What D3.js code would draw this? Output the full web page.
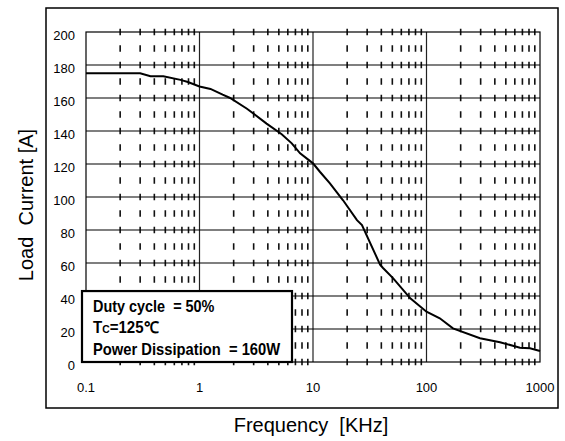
<!DOCTYPE html>
<html>
<head>
<meta charset="utf-8">
<script src="https://cdn.jsdelivr.net/npm/d3@7"></script>
<style>
  body { margin: 0; background: #fff; }
  text { font-family: "Liberation Sans", Arial, sans-serif; }
</style>
</head>
<body>
<div id="chart"></div>
<script>
// curve: frequency in kHz, load current in A
var freq    = [0.1, 0.3, 0.37, 0.48, 0.68, 0.79, 1.0, 1.25, 1.6, 1.86, 2.62, 3.9, 5.3, 6.5, 7.7, 10, 11.5, 14.1, 18.4, 24.4, 27, 39, 41.4, 50.9, 72, 100, 131, 171, 296, 444, 666, 816, 1000];
var current = [175, 175, 173.2, 173.2, 171, 169.7, 167, 165.5, 162, 160, 153.5, 144.5, 138, 132.5, 126.5, 120.4, 115.3, 108.3, 98, 86, 83, 59, 57, 50.7, 38.6, 30.5, 26.5, 20.4, 14.4, 12, 8.7, 8.3, 6.7];

var xTicks = [0.1, 1, 10, 100, 1000];
var xTickLabels = ["0.1", "1", "10", "100", "1000"];
var yTicks = [0, 20, 40, 60, 80, 100, 120, 140, 160, 180, 200];
var decades = [0.1, 1, 10, 100];
var minor = [2, 3, 4, 5, 6, 7, 8, 9];

var legendLines = ["Duty cycle  = 50%", "Tc=125℃", "Power Dissipation  = 160W"];

var W = 565, H = 441;
var margin = {top: 32, right: 25, bottom: 79, left: 86};
var width = W - margin.left - margin.right,
    height = H - margin.top - margin.bottom;

var svg = d3.select("#chart").append("svg")
    .attr("width", W)
    .attr("height", H);

// outer frame
svg.append("rect")
    .attr("x", 46).attr("y", 8)
    .attr("width", 512).attr("height", 400)
    .attr("fill", "none").attr("stroke", "#000").attr("stroke-width", 1.5);

var g = svg.append("g")
    .attr("transform", "translate(" + margin.left + "," + margin.top + ")");

var x = d3.scaleLog().domain([0.1, 1000]).range([0, width]);
var y = d3.scaleLinear().domain([0, 200]).range([height, 0]);

// dashed minor verticals, dashes centred on the horizontal grid
var minorVals = [];
decades.forEach(function(d){ minor.forEach(function(m){ minorVals.push(d * m); }); });
var step = y(0) - y(10);
var dash = 6.5;
g.selectAll("line.minor").data(minorVals).enter().append("line")
    .attr("class", "minor")
    .attr("x1", function(d){ return x(d); })
    .attr("x2", function(d){ return x(d); })
    .attr("y1", y(0) + dash / 2)
    .attr("y2", y(200) - dash / 2)
    .attr("stroke", "#111")
    .attr("stroke-width", 1.6)
    .attr("stroke-dasharray", dash + " " + (step - dash));

// solid decade verticals
g.selectAll("line.major").data([1, 10, 100]).enter().append("line")
    .attr("x1", function(d){ return x(d); })
    .attr("x2", function(d){ return x(d); })
    .attr("y1", 0).attr("y2", height)
    .attr("stroke", "#222").attr("stroke-width", 1.2);

// horizontal grid
g.selectAll("line.hgrid").data(yTicks.slice(1, -1)).enter().append("line")
    .attr("x1", 0).attr("x2", width)
    .attr("y1", function(d){ return y(d); })
    .attr("y2", function(d){ return y(d); })
    .attr("stroke", "#000").attr("stroke-width", 1.2);

// plot frame
g.append("rect")
    .attr("width", width).attr("height", height)
    .attr("fill", "none").attr("stroke", "#000").attr("stroke-width", 1.2);

// curve
var line = d3.line()
    .x(function(d, i){ return x(freq[i]); })
    .y(function(d){ return y(d); });
g.append("path")
    .datum(current)
    .attr("d", line)
    .attr("fill", "none")
    .attr("stroke", "#000")
    .attr("stroke-width", 2);

// tick labels
g.selectAll("text.ylab").data(yTicks).enter().append("text")
    .attr("x", -11)
    .attr("y", function(d){ return y(d) + 8; })
    .attr("text-anchor", "end")
    .attr("font-size", 13)
    .text(function(d){ return d; });

g.selectAll("text.xlab").data(xTicks).enter().append("text")
    .attr("x", function(d){ return x(d); })
    .attr("y", height + 30)
    .attr("text-anchor", "middle")
    .attr("font-size", 13)
    .text(function(d, i){ return xTickLabels[i]; });

// axis titles
svg.append("text")
    .attr("transform", "translate(33,205) rotate(-90)")
    .attr("text-anchor", "middle")
    .attr("font-size", 20)
    .style("white-space", "pre")
    .text("Load  Current [A]");

svg.append("text")
    .attr("x", 311).attr("y", 432)
    .attr("text-anchor", "middle")
    .attr("font-size", 20)
    .style("white-space", "pre")
    .text("Frequency  [KHz]");

// legend box
var lg = g.append("g");
lg.append("rect")
    .attr("x", -4).attr("y", y(43))
    .attr("width", 210).attr("height", y(0) - y(43))
    .attr("fill", "#fff").attr("stroke", "#000").attr("stroke-width", 2.2);

var lineY = [y(0) - 50, y(0) - 29, y(0) - 7];
var lineW = [121.6, 65.6, 187.3];
legendLines.forEach(function(s, i){
    var t = lg.append("text")
        .attr("font-size", 16)
        .attr("font-weight", "bold")
        .style("white-space", "pre");
    if (i === 1) {
        t.append("tspan").text("T");
        t.append("tspan").attr("font-size", 11).text("C");
        t.append("tspan").text("=125");
        t.append("tspan").text("℃");
    } else {
        t.text(s);
    }
    var len = t.node().getComputedTextLength();
    t.attr("transform", "translate(7," + lineY[i] + ") scale(" + (lineW[i] / len) + ",1)");
});
</script>
</body>
</html>
